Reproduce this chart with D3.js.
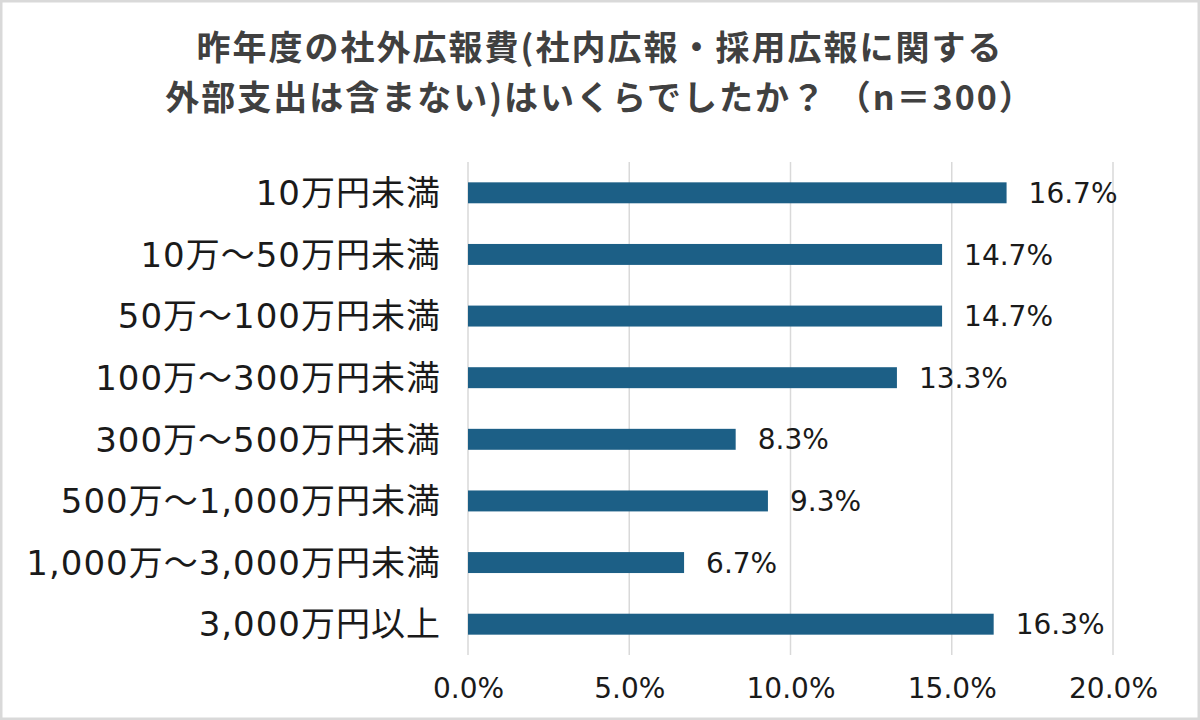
<!DOCTYPE html>
<html>
<head>
<meta charset="utf-8">
<script src="https://cdn.jsdelivr.net/npm/d3@7"></script>
<style>
  body { margin: 0; background: #fff; }
  text { font-family: "DejaVu Sans", "Noto Sans CJK JP", sans-serif; }
</style>
</head>
<body>
<svg id="chart" width="1200" height="720"></svg>
<script>
// data
var categories = ["10万円未満", "10万～50万円未満", "50万～100万円未満", "100万～300万円未満",
                  "300万～500万円未満", "500万～1,000万円未満", "1,000万～3,000万円未満", "3,000万円以上"];
var values = [16.7, 14.7, 14.7, 13.3, 8.3, 9.3, 6.7, 16.3];
var tickValues = [0, 5, 10, 15, 20];
var titleLines = ["昨年度の社外広報費(社内広報・採用広報に関する", "外部支出は含まない)はいくらでしたか？ （n＝300）"];

var svg = d3.select("#chart");

/*========== Frame ===========*/
svg.append("rect")
    .attr("x", 1).attr("y", 1)
    .attr("width", 1198).attr("height", 718)
    .attr("fill", "#fff")
    .attr("stroke", "#d9d9d9")
    .attr("stroke-width", 3);

/*========== Title ===========*/
svg.append("g").selectAll("text")
    .data(titleLines)
    .enter()
    .append("text")
    .attr("x", 600)
    .attr("y", function (d, i) { return 60 + i * 50; })
    .attr("text-anchor", "middle")
    .attr("fill", "#404040")
    .style("font-family", "\"Noto Sans CJK JP\", sans-serif")
    .style("font-size", "34px")
    .style("letter-spacing", "2px")
    .style("font-weight", 700)
    .text(function (d) { return d; });

/*========== Scales ===========*/
var x = d3.scaleLinear().domain([0, 20]).range([468, 1113]);
var y = d3.scaleBand().domain(categories).range([162, 655]).paddingInner(0.66).paddingOuter(0.33);

/*========== Grid ===========*/
svg.append("g").selectAll("line")
    .data(tickValues)
    .enter()
    .append("line")
    .attr("x1", function (d) { return x(d); })
    .attr("x2", function (d) { return x(d); })
    .attr("y1", 162).attr("y2", 655)
    .attr("stroke", "#d9d9d9")
    .attr("stroke-width", 1.5);

/*========== Bars ===========*/
svg.append("g").selectAll("rect")
    .data(values)
    .enter()
    .append("rect")
    .attr("x", x(0))
    .attr("y", function (d, i) { return y(categories[i]); })
    .attr("width", function (d) { return x(d) - x(0); })
    .attr("height", y.bandwidth())
    .attr("fill", "#1c5f86");

/*========== Value labels ===========*/
svg.append("g").selectAll("text")
    .data(values)
    .enter()
    .append("text")
    .attr("x", function (d) { return x(d) + 22; })
    .attr("y", function (d, i) { return y(categories[i]) + y.bandwidth() / 2; })
    .attr("dy", "0.36em")
    .attr("fill", "#1a1a1a")
    .style("font-size", "28px")
    .text(function (d) { return d.toFixed(1) + "%"; });

/*========== Row labels ===========*/
svg.append("g").selectAll("text")
    .data(categories)
    .enter()
    .append("text")
    .attr("x", 441)
    .attr("y", function (d) { return y(d) + y.bandwidth() / 2; })
    .attr("dy", "0.36em")
    .attr("text-anchor", "end")
    .attr("fill", "#1a1a1a")
    .style("font-size", "34px")
    .style("letter-spacing", "1px")
    .text(function (d) { return d; });

/*========== X axis ===========*/
var xAxis = d3.axisBottom(x)
    .tickValues(tickValues)
    .tickSize(0)
    .tickPadding(0)
    .tickFormat(function (d) { return d.toFixed(1) + "%"; });

var gx = svg.append("g")
    .attr("transform", "translate(0,680)")
    .call(xAxis);
gx.select(".domain").remove();
gx.selectAll("text")
    .attr("fill", "#1a1a1a")
    .attr("dy", "0.36em")
    .attr("y", 8)
    .style("font-size", "28px")
    .style("font-family", "\"DejaVu Sans\", sans-serif");
</script>
</body>
</html>
